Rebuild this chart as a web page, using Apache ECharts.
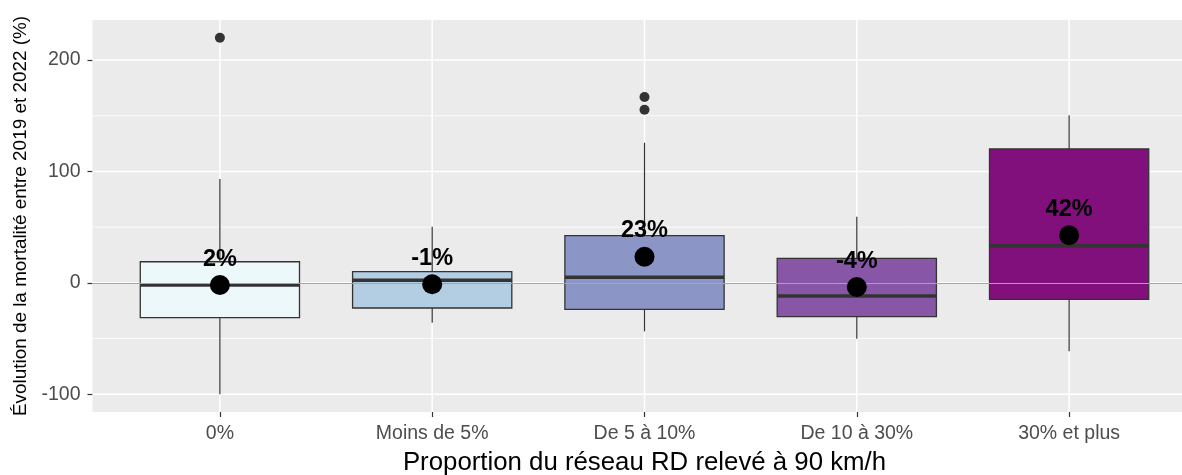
<!DOCTYPE html>
<html>
<head>
<meta charset="utf-8">
<script src="https://cdn.jsdelivr.net/npm/echarts@6/dist/echarts.min.js"></script>
<style>
  html, body { margin: 0; padding: 0; background: #ffffff; }
  #chart { width: 1182px; height: 475px; }
</style>
</head>
<body>
<div id="chart"></div>
<script>
// ---- Data ----
const categories = ['0%', 'Moins de 5%', 'De 5 à 10%', 'De 10 à 30%', '30% et plus'];
const whiskerLow = [-100, -35.8, -43.6, -50.2, -61.5];
const q1Values = [-31.3, -22.6, -23.8, -30.4, -14.8];
const medianValues = [-2.0, 2.2, 4.9, -11.9, 33.3];
const q3Values = [18.9, 10.0, 42.3, 22.0, 120.2];
const whiskerHigh = [93.2, 50.4, 125.8, 59.4, 150.4];
const outlierCategory = [0, 2, 2];
const outlierValues = [220, 166.8, 155.4];
const meanValues = [-2.0, -1.3, 23.4, -3.8, 42.7];
const meanLabels = ['2%', '-1%', '23%', '-4%', '42%'];
const yTickValues = [-100, 0, 100, 200];
const yMinorValues = [-50, 50, 150];

// ---- Styles / scale limits ----
const boxColors = ['#EDF8FB', '#B3CDE3', '#8C96C6', '#8856A7', '#810F7C'];
const FONT = '"Liberation Sans", Arial, sans-serif';
const Y_MIN = -116, Y_MAX = 236, X_MIN = -0.6, X_MAX = 4.6;

const boxData = categories.map((c, i) => [i, whiskerLow[i], q1Values[i], medianValues[i], q3Values[i], whiskerHigh[i]]);
const outlierData = outlierCategory.map((c, i) => [c, outlierValues[i]]);
const meanData = meanValues.map((v, i) => ({ value: [i, v], label: { formatter: meanLabels[i] } }));
const catIdx = categories.map((c, i) => i);

// grid-line helper rows: [kind, value]  kind 0 = vertical major, 1 = horizontal major, 2 = horizontal minor
const gridRows = [].concat(
  catIdx.map(v => [0, v]),
  yTickValues.map(v => [1, v]),
  yMinorValues.map(v => [2, v])
);

const chart = echarts.init(document.getElementById('chart'), null, { renderer: 'canvas' });

const option = {
  animation: false,
  backgroundColor: '#ffffff',
  textStyle: { fontFamily: FONT },
  grid: {
    left: 92.5, top: 20, width: 1104, height: 392,
    show: true, backgroundColor: '#EBEBEB', borderWidth: 0,
    containLabel: false, outerBoundsMode: 'none'
  },
  xAxis: {
    type: 'value', min: X_MIN, max: X_MAX,
    name: 'Proportion du réseau RD relevé à 90 km/h',
    nameLocation: 'middle', nameGap: 38,
    nameTextStyle: { fontSize: 25.8, color: '#000000', fontFamily: FONT },
    axisLine: { show: false, onZero: false },
    splitLine: { show: false },
    axisTick: { show: true, customValues: catIdx, length: 5, lineStyle: { color: '#333333', width: 1.2 } },
    axisLabel: {
      customValues: catIdx, margin: 12, fontSize: 19.5, color: '#4D4D4D', fontFamily: FONT,
      formatter: v => categories[Math.round(v)]
    }
  },
  yAxis: {
    type: 'value', min: Y_MIN, max: Y_MAX,
    name: 'Évolution de la mortalité entre 2019 et 2022 (%)',
    nameLocation: 'middle', nameGap: 58,
    nameTextStyle: { fontSize: 18.9, color: '#000000', fontFamily: FONT },
    axisLine: { show: false, onZero: false },
    splitLine: { show: false },
    axisTick: { show: true, customValues: yTickValues, length: 5, lineStyle: { color: '#333333', width: 1.2 } },
    axisLabel: { customValues: yTickValues, margin: 12, fontSize: 19.5, color: '#4D4D4D', fontFamily: FONT }
  },
  series: [
    {
      type: 'custom',
      name: 'gridlines',
      z: 1,
      silent: true,
      data: gridRows,
      encode: { x: -1, y: -1 },
      renderItem: function (params, api) {
        const kind = api.value(0);
        const v = api.value(1);
        let p1, p2;
        if (kind === 0) { p1 = api.coord([v, Y_MIN]); p2 = api.coord([v, Y_MAX]); }
        else { p1 = api.coord([X_MIN, v]); p2 = api.coord([X_MAX, v]); }
        return {
          type: 'line',
          shape: { x1: p1[0], y1: p1[1], x2: p2[0], y2: p2[1] },
          style: { stroke: '#FFFFFF', lineWidth: kind === 2 ? 0.8 : 1.5 }
        };
      }
    },
    {
      type: 'custom',
      name: 'boxes',
      z: 2,
      encode: { x: 0, y: [1, 2, 3, 4, 5] },
      data: boxData,
      renderItem: function (params, api) {
        const x = api.value(0);
        const w = api.size([0.75, 0])[0];
        const pMin = api.coord([x, api.value(1)]);
        const pQ1 = api.coord([x, api.value(2)]);
        const pMed = api.coord([x, api.value(3)]);
        const pQ3 = api.coord([x, api.value(4)]);
        const pMax = api.coord([x, api.value(5)]);
        const cx = pMin[0];
        const line = { stroke: '#333333', lineWidth: 1.2 };
        return {
          type: 'group',
          children: [
            { type: 'line', shape: { x1: cx, y1: pMax[1], x2: cx, y2: pQ3[1] }, style: line },
            { type: 'line', shape: { x1: cx, y1: pQ1[1], x2: cx, y2: pMin[1] }, style: line },
            { type: 'rect', shape: { x: cx - w / 2, y: pQ3[1], width: w, height: pQ1[1] - pQ3[1] },
              style: { fill: boxColors[params.dataIndex], stroke: '#333333', lineWidth: 1.3 } },
            { type: 'line', shape: { x1: cx - w / 2, y1: pMed[1], x2: cx + w / 2, y2: pMed[1] },
              style: { stroke: '#333333', lineWidth: 3.5 } }
          ]
        };
      }
    },
    {
      type: 'scatter',
      name: 'outliers',
      z: 4,
      symbol: 'circle',
      symbolSize: 10,
      itemStyle: { color: '#333333', opacity: 1 },
      data: outlierData
    },
    {
      type: 'scatter',
      name: 'mean',
      z: 5,
      symbol: 'circle',
      symbolSize: 20,
      itemStyle: { color: '#000000', opacity: 1 },
      label: {
        show: true, position: 'top', distance: 4,
        fontSize: 23.5, fontWeight: 'bold', color: '#000000', fontFamily: FONT
      },
      data: meanData,
      markLine: {
        silent: true, symbol: 'none', z: 3, animation: false,
        label: { show: false },
        data: [[{ coord: [X_MIN, 0] }, { coord: [X_MAX, 0] }]],
        lineStyle: { color: '#A6A6A6', width: 1.2, type: 'solid' }
      }
    }
  ]
};

chart.setOption(option);
</script>
</body>
</html>
